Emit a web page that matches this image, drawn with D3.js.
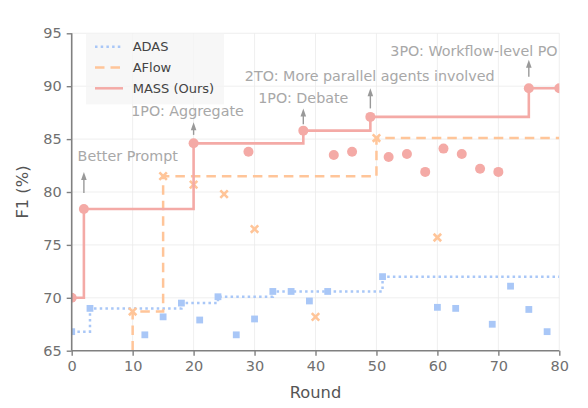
<!DOCTYPE html>
<html>
<head>
<meta charset="utf-8">
<script src="https://cdn.jsdelivr.net/npm/d3@7"></script>
<style>
    body { margin: 0; background: #fff; }
    svg { font-family: "DejaVu Sans", sans-serif; }
</style>
</head>
<body>
<svg id="chart" width="588" height="408"></svg>
<script>
// Scores per round (F1 %)
const adasRounds = [0, 3, 12, 15, 18, 21, 24, 27, 30, 33, 36, 39, 42, 51, 60, 63, 69, 72, 75, 78];
const adasScores = [66.8, 69.0, 66.5, 68.2, 69.5, 67.9, 70.1, 66.5, 68.0, 70.6, 70.6, 69.7, 70.6, 72.0, 69.1, 69.0, 67.5, 71.1, 68.9, 66.8];

const aflowRounds = [0, 10, 15, 20, 25, 30, 40, 50, 60];
const aflowScores = [62.0, 68.7, 81.5, 80.7, 79.8, 76.5, 68.2, 85.1, 75.7];

const massRounds = [0, 2, 20, 29, 38, 43, 46, 49, 52, 55, 58, 61, 64, 67, 70, 75, 80];
const massScores = [70.0, 78.4, 84.6, 83.8, 85.8, 83.5, 83.8, 87.1, 83.3, 83.6, 81.9, 84.1, 83.6, 82.2, 81.9, 89.8, 89.8];

const xTicks = [0, 10, 20, 30, 40, 50, 60, 70, 80];
const yTicks = [65, 70, 75, 80, 85, 90, 95];

// Annotations: arrow at a round, from/to values, label centred at (textX, textY)
const notes = [
    { round: 2, from: 79.9, to: 81.9, label: "Better Prompt", textX: 9.2, textY: 82.95 },
    { round: 20, from: 85.4, to: 86.6, label: "1PO: Aggregate", textX: 19.0, textY: 87.15 },
    { round: 38, from: 86.4, to: 87.9, label: "1PO: Debate", textX: 38.0, textY: 88.45 },
    { round: 49, from: 87.9, to: 89.8, label: "2TO: More parallel agents involved", textX: 48.9, textY: 90.5 },
    { round: 75, from: 90.9, to: 92.5, label: "3PO: Workflow-level PO", textX: 66.0, textY: 92.85 },
];

const colors = { adas: "#a9c7f7", aflow: "#ffc599", mass: "#f4aaa6" };

const margin = { top: 33.3, right: 28.7, bottom: 57.3, left: 71.7 };
const width = 588 - margin.left - margin.right;
const height = 408 - margin.top - margin.bottom;

const svg = d3.select("#chart");
const g = svg.append("g").attr("transform", `translate(${margin.left},${margin.top})`);

const x = d3.scaleLinear().domain([0, 80]).range([0, width]);
const y = d3.scaleLinear().domain([65, 95]).range([height, 0]);

svg.append("defs").append("clipPath").attr("id", "plotClip")
    .append("rect").attr("width", width).attr("height", height);

// best-so-far step line, extended to the end of the axis
function bestSoFar(rounds, scores) {
    let best = -Infinity;
    const pts = rounds.map((r, i) => {
        best = Math.max(best, scores[i]);
        return [r, best];
    });
    const last = pts[pts.length - 1];
    if (last[0] < 80) pts.push([80, last[1]]);
    return pts;
}

function points(rounds, scores) {
    return rounds.map((r, i) => [r, scores[i]]);
}

// grid
g.append("g").selectAll("line").data(xTicks).join("line")
    .attr("x1", (d) => x(d)).attr("x2", (d) => x(d))
    .attr("y1", 0).attr("y2", height)
    .attr("stroke", "#ebebeb").attr("stroke-width", 0.8);
g.append("g").selectAll("line").data(yTicks).join("line")
    .attr("x1", 0).attr("x2", width)
    .attr("y1", (d) => y(d)).attr("y2", (d) => y(d))
    .attr("stroke", "#ebebeb").attr("stroke-width", 0.8);

// legend box (behind data)
const legend = g.append("g").attr("transform", "translate(14.3,0)");
legend.append("rect")
    .attr("width", 138).attr("height", 71)
    .attr("fill", "#f4f4f4").attr("opacity", 0.75);

const step = d3.line()
    .x((d) => x(d[0]))
    .y((d) => y(d[1]))
    .curve(d3.curveStepAfter);

const plot = g.append("g").attr("clip-path", "url(#plotClip)");

// ADAS
plot.append("path")
    .datum(bestSoFar(adasRounds, adasScores))
    .attr("fill", "none")
    .attr("stroke", colors.adas)
    .attr("stroke-width", 2.5)
    .attr("stroke-dasharray", "2.5,3.2")
    .attr("d", step);
plot.append("g").selectAll("rect").data(points(adasRounds, adasScores)).join("rect")
    .attr("x", (d) => x(d[0]) - 3.4)
    .attr("y", (d) => y(d[1]) - 3.4)
    .attr("width", 6.8).attr("height", 6.8)
    .attr("fill", colors.adas);

// AFlow
plot.append("path")
    .datum(bestSoFar(aflowRounds, aflowScores))
    .attr("fill", "none")
    .attr("stroke", colors.aflow)
    .attr("stroke-width", 2.5)
    .attr("stroke-dasharray", "9.5,6")
    .attr("d", step);
const cross = d3.symbol().type(d3.symbolX).size(38);
plot.append("g").selectAll("path").data(points(aflowRounds, aflowScores)).join("path")
    .attr("transform", (d) => `translate(${x(d[0])},${y(d[1])})`)
    .attr("d", cross)
    .attr("fill", "none")
    .attr("stroke", colors.aflow)
    .attr("stroke-width", 2.6);

// MASS
plot.append("path")
    .datum(bestSoFar(massRounds, massScores))
    .attr("fill", "none")
    .attr("stroke", colors.mass)
    .attr("stroke-width", 2.6)
    .attr("d", step);
plot.append("g").selectAll("circle").data(points(massRounds, massScores)).join("circle")
    .attr("cx", (d) => x(d[0]))
    .attr("cy", (d) => y(d[1]))
    .attr("r", 5)
    .attr("fill", colors.mass);

// annotations
const ann = g.append("g");
ann.selectAll("line").data(notes).join("line")
    .attr("x1", (d) => x(d.round)).attr("x2", (d) => x(d.round))
    .attr("y1", (d) => y(d.from)).attr("y2", (d) => y(d.to) + 6)
    .attr("stroke", "#999").attr("stroke-width", 1.4);
ann.selectAll("path").data(notes).join("path")
    .attr("d", (d) => {
        const px = x(d.round), py = y(d.to);
        return `M${px},${py}L${px - 2.8},${py + 8}L${px + 2.8},${py + 8}Z`;
    })
    .attr("fill", "#999");
ann.selectAll("text").data(notes).join("text")
    .attr("x", (d) => x(d.textX))
    .attr("y", (d) => y(d.textY))
    .attr("text-anchor", "middle")
    .attr("font-size", 14.3)
    .attr("fill", "#a8a8a8")
    .text((d) => d.label);

// legend entries
const legendItems = [
    { name: "ADAS", color: colors.adas, dash: "2.5,3.2" },
    { name: "AFlow", color: colors.aflow, dash: "9.5,6" },
    { name: "MASS (Ours)", color: colors.mass, dash: null },
];
const li = legend.selectAll("g").data(legendItems).join("g")
    .attr("transform", (d, i) => `translate(0,${13.4 + i * 20.8})`);
li.append("line")
    .attr("x1", 9).attr("x2", 37)
    .attr("stroke", (d) => d.color)
    .attr("stroke-width", 2.5)
    .attr("stroke-dasharray", (d) => d.dash);
li.append("text")
    .attr("x", 46.7)
    .attr("dy", "0.35em")
    .attr("font-size", 13)
    .attr("fill", "#444")
    .text((d) => d.name);

// axes
const xAxis = d3.axisBottom(x).tickValues(xTicks).tickSize(5).tickPadding(5);
const yAxis = d3.axisLeft(y).tickValues(yTicks).tickSize(5).tickPadding(5);

const gx = g.append("g").attr("transform", `translate(0,${height})`).call(xAxis);
const gy = g.append("g").call(yAxis);
[gx, gy].forEach((ax) => {
    ax.select(".domain").attr("stroke", "#808080").attr("stroke-width", 1.6);
    ax.selectAll(".tick line").attr("stroke", "#808080").attr("stroke-width", 1.4);
    ax.selectAll(".tick text")
        .attr("fill", "#707070")
        .attr("font-size", 14.5)
        .attr("font-family", "DejaVu Sans, sans-serif");
});
gx.select(".domain").attr("d", `M0,0H${width}`);
gy.select(".domain").attr("d", `M0,${height}V0`);

g.append("text")
    .attr("x", width / 2)
    .attr("y", height + 47)
    .attr("text-anchor", "middle")
    .attr("font-size", 16.3)
    .attr("fill", "#555")
    .text("Round");

g.append("text")
    .attr("transform", `translate(${-44},${height / 2}) rotate(-90)`)
    .attr("text-anchor", "middle")
    .attr("font-size", 16.3)
    .attr("fill", "#555")
    .text("F1 (%)");
</script>
</body>
</html>
